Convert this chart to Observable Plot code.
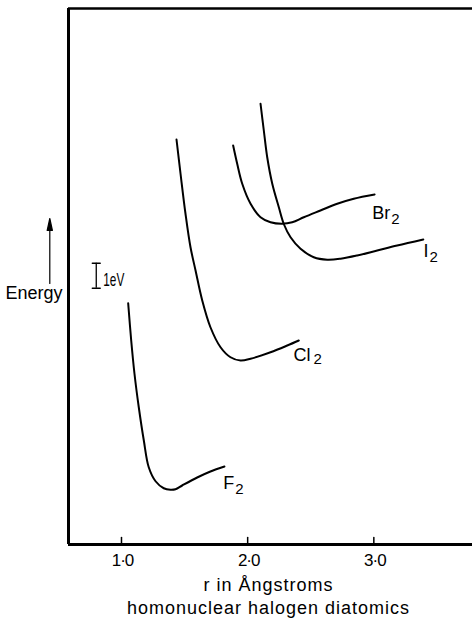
<!DOCTYPE html>
<html>
<head>
<meta charset="utf-8">
<script src="https://cdn.jsdelivr.net/npm/d3@7"></script>
<script src="https://cdn.jsdelivr.net/npm/@observablehq/plot@0.6"></script>
<style>
  html, body { margin: 0; padding: 0; background: #fff; }
  svg { display: block; }
</style>
</head>
<body>
<div id="chart"></div>
<script>
// ---- data (r in Å, energy in eV, arbitrary zero) ----
const molecules = ["F2", "Cl2", "Br2", "I2"];
const F2_r  = [1.053, 1.077, 1.103, 1.137, 1.177, 1.216, 1.270, 1.335, 1.388, 1.428, 1.481, 1.600, 1.705, 1.816];
const F2_E  = [9.65, 8.16, 6.83, 5.49, 4.16, 3.09, 2.53, 2.25, 2.19, 2.21, 2.36, 2.68, 2.92, 3.12];
const Cl2_r = [1.436, 1.468, 1.507, 1.547, 1.587, 1.640, 1.705, 1.785, 1.864, 1.943, 2.023, 2.181, 2.314, 2.405];
const Cl2_E = [16.20, 14.83, 13.24, 11.89, 10.96, 9.76, 8.69, 7.89, 7.49, 7.36, 7.43, 7.69, 7.96, 8.16];
const Br2_r = [1.885, 1.917, 1.957, 2.023, 2.102, 2.181, 2.274, 2.353, 2.445, 2.577, 2.710, 2.841, 3.006];
const Br2_E = [15.96, 15.23, 14.43, 13.63, 13.09, 12.89, 12.83, 12.89, 13.09, 13.36, 13.63, 13.83, 14.00];
const I2_r  = [2.102, 2.128, 2.155, 2.195, 2.247, 2.288, 2.340, 2.419, 2.524, 2.631, 2.736, 2.868, 3.027, 3.185, 3.392];
const I2_E  = [17.63, 16.56, 15.49, 14.43, 13.49, 12.80, 12.29, 11.83, 11.49, 11.39, 11.43, 11.56, 11.76, 11.96, 12.20];

const labelSym = ["F", "Cl", "Br", "I"];
const labelR   = [1.806, 2.363, 2.987, 3.394];
const labelE   = [2.24, 7.36, 13.04, 11.49];

const xTicks = [1, 2, 3];
const tickLabels = ["1·0", "2·0", "3·0"];
const xDomain = [0.58, 3.782];
const yDomain = [0, 21.44];

const xTitle = "r in Ångstroms";
const xSubtitle = "homonuclear halogen diatomics";
const yTitle = "Energy";
const scaleLabel = "1eV";
const scaleBarR = 0.8;
const scaleBarE = [10.25, 11.25];

// ---- build tables ----
const series = [[F2_r, F2_E], [Cl2_r, Cl2_E], [Br2_r, Br2_E], [I2_r, I2_E]];
const rows = [];
series.forEach(([rs, es], k) => rs.forEach((r, i) => rows.push({mol: molecules[k], r, E: es[i]})));
const labelRows = labelSym.map((s, i) => ({sym: s, r: labelR[i], E: labelE[i]}));
const tickRows = xTicks.map((t, i) => ({t, label: tickLabels[i]}));

const lineShape = {draw(ctx, l) { ctx.moveTo(0, 0); ctx.lineTo(0, -l); }};
const arrowShape = {draw(ctx, l) {
  ctx.moveTo(0, 0); ctx.lineTo(0, -l + 10);
  ctx.moveTo(-2.6, -l + 12); ctx.lineTo(0, -l); ctx.lineTo(2.6, -l + 12); ctx.closePath();
}};

const font = "'Liberation Sans', Arial, Helvetica, sans-serif";

const chart = Plot.plot({
  width: 472,
  height: 623,
  marginLeft: 68,
  marginRight: 0,
  marginTop: 8,
  marginBottom: 79,
  style: {fontFamily: font, fontSize: "18px", background: "#fff", color: "#000", overflow: "visible"},
  x: {domain: xDomain, axis: null},
  y: {domain: yDomain, axis: null},
  marks: [
    // frame: left, top, bottom
    Plot.ruleX([xDomain[0]], {stroke: "#000", strokeWidth: 3}),
    Plot.ruleY([yDomain[1]], {stroke: "#000", strokeWidth: 2.6}),
    Plot.ruleY([yDomain[0]], {stroke: "#000", strokeWidth: 3}),
    // inward ticks
    Plot.vector(tickRows, {x: "t", frameAnchor: "bottom", length: 7, rotate: 0, anchor: "start",
      shape: lineShape, stroke: "#000", strokeWidth: 1.5}),
    // tick labels
    Plot.text(tickRows, {x: "t", text: "label", frameAnchor: "bottom", lineAnchor: "top",
      dy: 9, dx: 1, fontSize: 17, fill: "#000"}),
    // axis titles
    Plot.text([xTitle], {text: d => d, frameAnchor: "bottom", lineAnchor: "bottom",
      dx: -2, dy: 46, fontSize: 18, fill: "#000"}),
    Plot.text([xSubtitle], {text: d => d, frameAnchor: "bottom", lineAnchor: "bottom",
      dx: -2, dy: 69, fontSize: 18, fill: "#000"}),
    Plot.text([yTitle], {text: d => d, frameAnchor: "left", textAnchor: "end", lineAnchor: "bottom",
      dx: -6, dy: 22, fontSize: 18, fill: "#000"}),
    // energy arrow
    Plot.vector([yTitle], {frameAnchor: "left", dx: -18.7, dy: 7, length: 65, rotate: 0, anchor: "start",
      shape: arrowShape, stroke: "#000", fill: "#000", strokeWidth: 1.2}),
    // 1 eV scale bar
    Plot.ruleX([scaleBarR], {y1: scaleBarE[0], y2: scaleBarE[1], stroke: "#000", strokeWidth: 1.3}),
    Plot.vector(scaleBarE, {x: scaleBarR, y: d => d, rotate: 90, length: 8, anchor: "middle",
      shape: lineShape, stroke: "#000", strokeWidth: 1.3}),
    Plot.text([scaleLabel], {x: scaleBarR, y: (scaleBarE[0] + scaleBarE[1]) / 2, text: d => d,
      textAnchor: "start", dx: 7, dy: 4, fontSize: 19, fill: "#000"}),
    // potential curves
    Plot.line(rows, {x: "r", y: "E", z: "mol", curve: "catmull-rom", stroke: "#000", strokeWidth: 2}),
    // curve labels
    Plot.text(labelRows, {x: "r", y: "E", text: "sym", textAnchor: "start", lineAnchor: "bottom",
      fontSize: 18, fill: "#000"})
  ]
});

// subscripts and text spacing
d3.select(chart).selectAll("text").each(function () {
  const t = this.textContent;
  if (labelSym.includes(t)) {
    d3.select(this).append("tspan").attr("dx", t === "Cl" ? 3 : 1).attr("dy", t === "Cl" ? 3 : 5)
      .attr("font-size", 15).text("2");
  } else if (t === scaleLabel) {
    this.setAttribute("textLength", 21);
    this.setAttribute("lengthAdjust", "spacingAndGlyphs");
  } else if (t === xTitle || t === xSubtitle) {
    this.setAttribute("letter-spacing", "1");
  } else if (tickLabels.includes(t)) {
    this.setAttribute("letter-spacing", "-1");
  }
});

document.getElementById("chart").appendChild(chart);
</script>
</body>
</html>
